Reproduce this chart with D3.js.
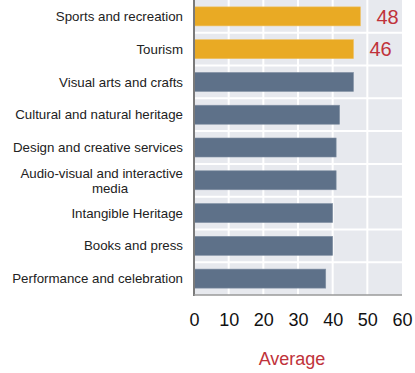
<!DOCTYPE html>
<html>
<head>
<meta charset="utf-8">
<script src="https://cdn.jsdelivr.net/npm/d3@7"></script>
<style>
  body { margin: 0; background: #fff; }
  text { font-family: "Liberation Sans", Arial, sans-serif; }
</style>
</head>
<body>
<div id="chart"></div>
<script>
const width = 415;
const height = 373;

const categories = [
    "Sports and recreation",
    "Tourism",
    "Visual arts and crafts",
    "Cultural and natural heritage",
    "Design and creative services",
    "Audio-visual and interactive media",
    "Intangible Heritage",
    "Books and press",
    "Performance and celebration"
];
const values = [48, 46, 46, 42, 41, 41, 40, 40, 38];
const highlighted = [true, true, false, false, false, false, false, false, false];
const xTicks = [0, 10, 20, 30, 40, 50, 60];

const margin = { top: 0, left: 194, right: 13, bottom: 78 };
const plotW = width - margin.left - margin.right;
const plotH = height - margin.top - margin.bottom;

const svg = d3.select("#chart")
    .append("svg")
    .attr("width", width)
    .attr("height", height);

const x = d3.scaleLinear().domain([0, 60]).range([0, plotW]);
const y = d3.scaleBand().domain(categories).range([0, plotH]).paddingInner(0.42).paddingOuter(0.21);

const g = svg.append("g").attr("transform", `translate(${margin.left},${margin.top})`);

// background
g.append("rect")
    .attr("width", plotW)
    .attr("height", plotH)
    .attr("fill", "#e7e9ee");

// vertical grid
g.selectAll(".vgrid")
    .data(xTicks.slice(1, -1))
    .enter()
    .append("line")
    .attr("x1", d => x(d))
    .attr("x2", d => x(d))
    .attr("y1", 0)
    .attr("y2", plotH)
    .attr("stroke", "#fff")
    .attr("stroke-width", 2);

// horizontal grid between rows
const step = y.step();
g.selectAll(".hgrid")
    .data(categories.slice(1))
    .enter()
    .append("line")
    .attr("x1", 0)
    .attr("x2", plotW)
    .attr("y1", d => y(d) - step * 0.42 / 2)
    .attr("y2", d => y(d) - step * 0.42 / 2)
    .attr("stroke", "#fff")
    .attr("stroke-width", 2);

// bars
g.selectAll(".bar")
    .data(categories)
    .enter()
    .append("rect")
    .attr("x", 0)
    .attr("y", d => y(d))
    .attr("width", (d, i) => x(values[i]))
    .attr("height", y.bandwidth())
    .attr("fill", (d, i) => highlighted[i] ? "#e9aa24" : "#5e7189")
    .attr("stroke", (d, i) => highlighted[i] ? "#efc061" : "#8190a3")
    .attr("stroke-width", 0.6);

// value labels for highlighted
g.selectAll(".val")
    .data(categories.filter((d, i) => highlighted[i]))
    .enter()
    .append("text")
    .attr("x", d => x(values[categories.indexOf(d)]) + 16)
    .attr("y", d => y(d) + y.bandwidth() / 2)
    .attr("dy", "0.36em")
    .attr("fill", "#c0323a")
    .attr("font-size", 20)
    .text(d => values[categories.indexOf(d)]);

// category labels
const labels = g.selectAll(".cat")
    .data(categories)
    .enter()
    .append("text")
    .attr("font-size", 13.3)
    .attr("fill", "#222")
    .attr("text-anchor", "end")
    .attr("x", -11)
    .attr("y", d => y(d) + y.bandwidth() / 2)
    .attr("dy", "0.35em");

labels.each(function (d) {
    const t = d3.select(this);
    if (d === "Audio-visual and interactive media") {
        t.attr("dy", null);
        t.append("tspan").attr("x", -11).attr("dy", "-0.2em").text("Audio-visual and interactive");
        t.append("tspan").attr("x", -84).attr("dy", "1.15em").attr("text-anchor", "middle").text("media");
    } else {
        t.text(d);
    }
});

// left axis line
g.append("line")
    .attr("x1", 0).attr("x2", 0)
    .attr("y1", 0).attr("y2", plotH + 1)
    .attr("stroke", "#7a7a7a")
    .attr("stroke-width", 2);

// bottom line
g.append("line")
    .attr("x1", 0).attr("x2", plotW)
    .attr("y1", plotH).attr("y2", plotH)
    .attr("stroke", "#9a9a9a")
    .attr("stroke-width", 1.5);

// x axis
const xAxis = g.append("g")
    .attr("transform", `translate(0,${plotH})`)
    .call(d3.axisBottom(x).tickValues(xTicks).tickSize(0).tickPadding(18));
xAxis.select(".domain").remove();
xAxis.selectAll("text")
    .attr("font-size", 18)
    .attr("fill", "#111")
    .style("font-family", "\"Liberation Sans\", Arial, sans-serif");

// axis title
svg.append("text")
    .attr("x", margin.left + plotW / 2 - 6)
    .attr("y", 365)
    .attr("text-anchor", "middle")
    .attr("font-size", 18)
    .attr("fill", "#c0323a")
    .text("Average");
</script>
</body>
</html>
